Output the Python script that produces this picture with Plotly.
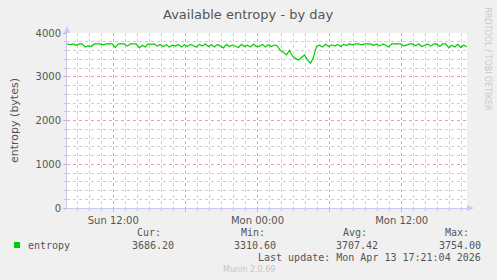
import pandas as pd
import plotly.graph_objects as go

# ---- data (15-minute samples) ----
start_time = "2026-04-12 08:10"
entropy = [
    3750, 3735, 3750, 3720,
    3750, 3750, 3680, 3710,
    3690, 3750, 3750, 3750,
    3730, 3750, 3750, 3750,
    3670, 3750, 3750, 3750,
    3700, 3750, 3750, 3750,
    3660, 3720, 3680, 3750,
    3740, 3750, 3700, 3740,
    3690, 3730, 3680, 3720,
    3700, 3740, 3680, 3730,
    3690, 3740, 3710, 3680,
    3740, 3700, 3750, 3690,
    3730, 3680, 3740, 3700,
    3660, 3740, 3690, 3730,
    3700, 3670, 3740, 3690,
    3720, 3680, 3740, 3690,
    3700, 3740, 3680, 3730,
    3690, 3730, 3700, 3600,
    3560, 3500, 3600, 3470,
    3420, 3380, 3440, 3500,
    3380, 3310.6, 3450, 3700,
    3720, 3680, 3740, 3690,
    3730, 3700, 3740, 3690,
    3740, 3720, 3750, 3730,
    3750, 3750, 3730, 3750,
    3750, 3750, 3720, 3750,
    3700, 3750, 3720, 3680,
    3750, 3754, 3750, 3750,
    3700, 3730, 3750, 3750,
    3710, 3750, 3690, 3720,
    3750, 3700, 3750, 3750,
    3690, 3750, 3750, 3660,
    3720, 3680, 3740, 3670,
    3720, 3686.2,
]
times = pd.date_range(start_time, periods=len(entropy), freq="15min")

x_range = ["2026-04-12 08:09", "2026-04-13 17:26"]
x_tickvals = ["2026-04-12 12:00", "2026-04-12 18:00", "2026-04-13 00:00",
              "2026-04-13 06:00", "2026-04-13 12:00"]
x_ticktext = ["Sun 12:00", "", "Mon 00:00", "", "Mon 12:00"]
y_tickvals = [0, 1000, 2000, 3000, 4000]

stat_headers = ["Cur:", "Min:", "Avg:", "Max:"]
stat_values = ["3686.20", "3310.60", "3707.42", "3754.00"]
series_name = "entropy"
title = "Available entropy - by day"
y_title = "entropy (bytes)"
last_update = "Last update: Mon Apr 13 17:21:04 2026"
footer = "Munin 2.0.69"
side_text = "RRDTOOL / TOBI OETIKER"

# ---- layout geometry (pixels) ----
W, H = 497, 280
L, R, T, B = 67, 467, 33, 208


def px(x):
    return (x - L) / (R - L)


def py(y):
    return (B - y) / (B - T)


GREEN = "#00CC00"
TEXT = "#555555"
AXIS = "#C8C8F4"
MGRID = "rgba(240,150,150,0.8)"
GRID = "rgba(185,185,185,0.7)"

fig = go.Figure()
fig.add_trace(go.Scatter(x=times, y=entropy, mode="lines",
                         line=dict(color=GREEN, width=1.2),
                         name=series_name, showlegend=False,
                         hoverinfo="skip"))

fig.update_layout(
    width=W, height=H,
    margin=dict(l=L, r=W - R, t=T, b=H - B, pad=0),
    paper_bgcolor="#F0F0F0",
    plot_bgcolor="#FFFFFF",
    font=dict(family="DejaVu Sans", size=10, color=TEXT),
    showlegend=False,
)

fig.update_xaxes(
    type="date", range=x_range,
    tickvals=x_tickvals, ticktext=x_ticktext,
    showgrid=True, gridcolor=MGRID, griddash="dot", gridwidth=1,
    minor=dict(dtick=3600000, tick0="2026-04-12 00:00", showgrid=True,
               gridcolor=GRID, griddash="dot", gridwidth=1,
               ticks="outside", ticklen=2, tickcolor=GRID),
    ticks="outside", ticklen=3, tickcolor=MGRID,
    showline=True, linecolor=AXIS, linewidth=1,
    zeroline=False,
    tickfont=dict(family="DejaVu Sans", size=10, color=TEXT),
)

fig.update_yaxes(
    range=[0, 4000],
    tickvals=y_tickvals,
    showgrid=True, gridcolor=MGRID, griddash="dot", gridwidth=1,
    minor=dict(dtick=200, showgrid=True, gridcolor=GRID, griddash="dot",
               gridwidth=1, ticks="outside", ticklen=2, tickcolor=GRID),
    ticks="outside", ticklen=3, tickcolor=MGRID,
    showline=True, linecolor=AXIS, linewidth=1,
    zeroline=False,
    tickfont=dict(family="DejaVu Sans", size=10, color=TEXT),
    title=dict(text=y_title, font=dict(family="DejaVu Sans", size=11, color=TEXT),
               standoff=14),
)

# axis arrows
fig.add_shape(type="path", xref="paper", yref="paper",
              xsizemode="pixel", ysizemode="pixel", xanchor=0, yanchor=1,
              path="M -3,0 L 3,0 L 0,7 Z", fillcolor=AXIS, line=dict(width=0))
fig.add_shape(type="path", xref="paper", yref="paper",
              xsizemode="pixel", ysizemode="pixel", xanchor=1, yanchor=0,
              path="M 0,-3 L 0,3 L 7,0 Z", fillcolor=AXIS, line=dict(width=0))

# legend square
fig.add_shape(type="rect", xref="paper", yref="paper",
              x0=px(14), x1=px(20), y0=py(248), y1=py(242),
              fillcolor=GREEN, line=dict(width=0))

ann = []
ann.append(dict(text=title, x=px(248), y=py(14), xanchor="center", yanchor="middle",
                font=dict(family="DejaVu Sans", size=13, color=TEXT)))
ann.append(dict(text=side_text, x=px(487), y=py(5), xanchor="center", yanchor="top",
                textangle=90, font=dict(family="DejaVu Sans", size=8, color="#C8C8C8")))
MONO = "DejaVu Sans Mono"
ann.append(dict(text=series_name, x=px(26), y=py(245), xanchor="left", yanchor="middle",
                font=dict(family=MONO, size=10, color=TEXT)))
header_right = [163, 267, 369, 471]
value_right = [176, 278, 380, 483]
for h, xr in zip(stat_headers, header_right):
    ann.append(dict(text=h, x=px(xr), y=py(232), xanchor="right", yanchor="middle",
                    font=dict(family=MONO, size=10, color=TEXT)))
for v, xr in zip(stat_values, value_right):
    ann.append(dict(text=v, x=px(xr), y=py(245), xanchor="right", yanchor="middle",
                    font=dict(family=MONO, size=10, color=TEXT)))
ann.append(dict(text=last_update, x=px(483), y=py(257), xanchor="right", yanchor="middle",
                font=dict(family=MONO, size=10, color=TEXT)))
ann.append(dict(text=footer, x=px(249), y=py(269), xanchor="center", yanchor="middle",
                font=dict(family="DejaVu Sans", size=8, color="#C4C4C4")))
for a in ann:
    a.update(xref="paper", yref="paper", showarrow=False)
fig.update_layout(annotations=ann)

fig.write_html("out.html")
